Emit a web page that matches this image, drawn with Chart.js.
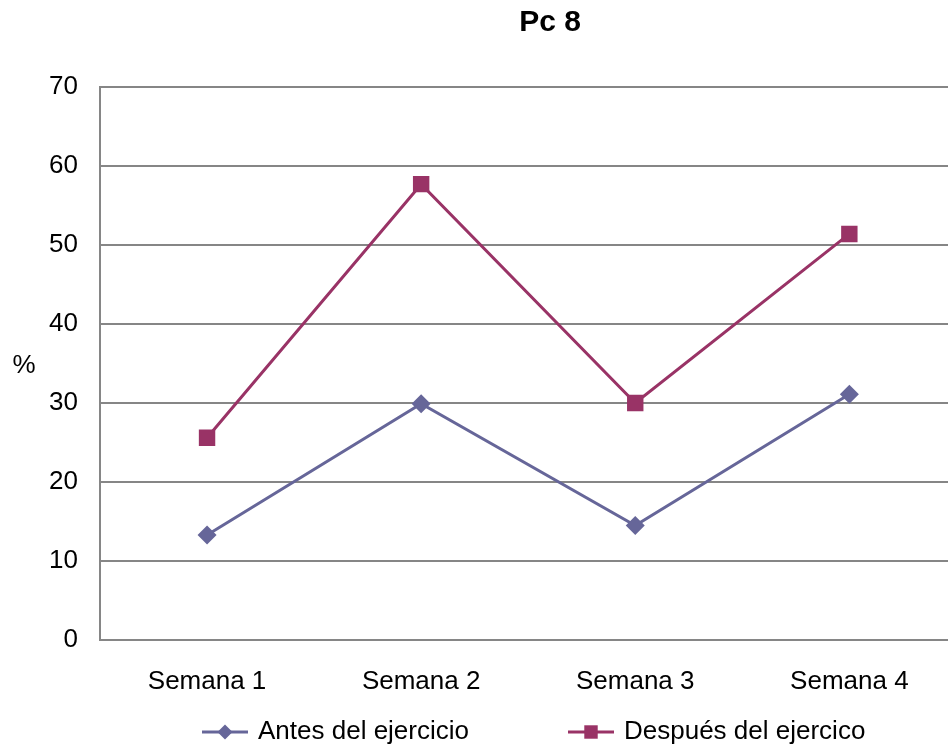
<!DOCTYPE html>
<html lang="es">
<head>
    <meta charset="UTF-8">
    <title>Pc 8</title>
    <script src="https://cdn.jsdelivr.net/npm/chart.js@4.4.0/dist/chart.umd.min.js"></script>
    <style>
        html, body {
            margin: 0;
            padding: 0;
            background: #ffffff;
            overflow: hidden;
        }
        .wrap {
            width: 968px;
            height: 748px;
        }
    </style>
</head>
<body>
    <div class="wrap">
        <canvas id="chart" width="968" height="748"></canvas>
    </div>

    <script>
        // Chart data
        const semanas = ["Semana 1", "Semana 2", "Semana 3", "Semana 4"];
        const antes = [13.3, 29.9, 14.5, 31.1];
        const despues = [25.6, 57.7, 30.0, 51.4];
        const yTicks = [0, 10, 20, 30, 40, 50, 60, 70];

        const FONT = "'Liberation Sans', Arial, sans-serif";
        const colAntes = "#666699";
        const colDespues = "#993366";

        // Title, "%" label and line+marker legend
        const extras = {
            id: 'extras',
            afterDraw(chart) {
                const ctx = chart.ctx;
                ctx.save();
                ctx.fillStyle = '#000';
                ctx.textBaseline = 'middle';
                ctx.textAlign = 'center';
                ctx.font = 'bold 30px ' + FONT;
                ctx.fillText('Pc 8', 550, 23);
                ctx.font = '26px ' + FONT;
                ctx.fillText('%', 24, 366);

                const items = [
                    { x: 202, r: 7.5, ds: chart.data.datasets[0] },
                    { x: 568, r: 9.5, ds: chart.data.datasets[1] }
                ];
                const ly = 732;
                items.forEach(it => {
                    ctx.strokeStyle = it.ds.borderColor;
                    ctx.lineWidth = 3;
                    ctx.beginPath();
                    ctx.moveTo(it.x, ly);
                    ctx.lineTo(it.x + 46, ly);
                    ctx.stroke();
                    ctx.fillStyle = it.ds.pointBackgroundColor;
                    Chart.helpers.drawPoint(ctx, {
                        pointStyle: it.ds.pointStyle,
                        radius: it.r,
                        borderWidth: 0,
                        rotation: 0
                    }, it.x + 23, ly);
                    ctx.fillStyle = '#000';
                    ctx.textAlign = 'left';
                    ctx.fillText(it.ds.label, it.x + 56, ly);
                });
                ctx.restore();
            }
        };

        new Chart(document.getElementById('chart').getContext('2d'), {
            type: 'line',
            data: {
                labels: semanas,
                datasets: [{
                    label: 'Antes del ejercicio',
                    data: antes,
                    borderColor: colAntes,
                    backgroundColor: colAntes,
                    pointBackgroundColor: colAntes,
                    pointBorderWidth: 0,
                    pointStyle: 'rectRot',
                    pointRadius: 9.5,
                    borderWidth: 3,
                    tension: 0
                }, {
                    label: 'Después del ejercico',
                    data: despues,
                    borderColor: colDespues,
                    backgroundColor: colDespues,
                    pointBackgroundColor: colDespues,
                    pointBorderWidth: 0,
                    pointStyle: 'rect',
                    pointRadius: 11.6,
                    borderWidth: 3,
                    tension: 0
                }]
            },
            options: {
                responsive: false,
                animation: false,
                layout: {
                    padding: { top: 87, right: 10, bottom: 43, left: 0 }
                },
                plugins: {
                    legend: { display: false },
                    title: { display: false },
                    tooltip: { enabled: false }
                },
                scales: {
                    x: {
                        offset: true,
                        grid: { display: false, drawTicks: false },
                        border: { color: '#868686', width: 2 },
                        ticks: {
                            color: '#000',
                            padding: 26,
                            font: { family: FONT, size: 26 }
                        },
                        afterFit(scale) { scale.height = 65; }
                    },
                    y: {
                        min: 0,
                        max: 70,
                        afterBuildTicks(scale) {
                            scale.ticks = yTicks.map(v => ({ value: v }));
                        },
                        grid: { color: '#868686', lineWidth: 2, drawTicks: false },
                        border: { color: '#868686', width: 2 },
                        ticks: {
                            color: '#000',
                            padding: 22,
                            font: { family: FONT, size: 26 }
                        },
                        afterFit(scale) { scale.width = 100; }
                    }
                }
            },
            plugins: [extras]
        });
    </script>
</body>
</html>
